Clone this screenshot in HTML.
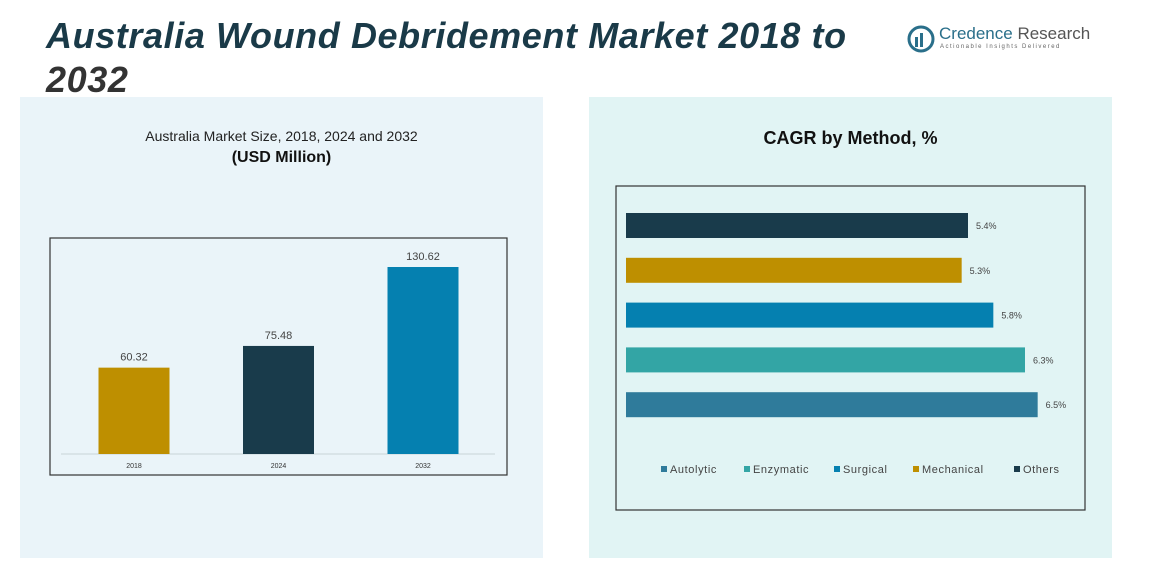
<!DOCTYPE html>
<html><head><meta charset="utf-8"><style>
body{margin:0;width:1157px;height:580px;background:#fff;overflow:hidden;font-family:"Liberation Sans",sans-serif;position:relative}
.abs{position:absolute}
</style></head><body>
<div class="abs" style="left:20px;top:97px;width:523px;height:461px;background:#eaf4f9"></div>
<div class="abs" style="left:589px;top:97px;width:523px;height:461px;background:#e1f4f4"></div>
<div class="abs" style="left:46px;top:14px;width:860px;font-size:36px;letter-spacing:0.6px;line-height:44px;font-weight:bold;font-style:italic;color:#1a3a48">Australia Wound Debridement Market 2018 to <span style="color:#333">2032</span></div>
<div class="abs" style="left:907px;top:24px;width:180px;height:30px">
 <svg width="30" height="30" style="position:absolute;left:0;top:0"><circle cx="14" cy="15" r="12" fill="none" stroke="#2a6f8a" stroke-width="3"/><rect x="8" y="13" width="3" height="10" fill="#2a6f8a"/><rect x="13" y="9" width="3" height="14" fill="#2a6f8a"/></svg>
 <div style="position:absolute;left:32px;top:0;font-size:17px;color:#2a6f8a;white-space:nowrap">Credence <span style="color:#555">Research</span></div>
 <div style="position:absolute;left:33px;top:20px;font-size:6px;letter-spacing:1.5px;color:#666;white-space:nowrap">Actionable Insights Delivered</div>
</div>
<div class="abs" style="left:20px;top:128px;width:523px;text-align:center;font-size:14px;color:#222">Australia Market Size, 2018, 2024 and 2032</div>
<div class="abs" style="left:20px;top:149px;width:523px;text-align:center;font-size:16px;font-weight:bold;color:#111">(USD Million)</div>
<div class="abs" style="left:589px;top:128px;width:523px;text-align:center;font-size:18px;font-weight:bold;color:#111">CAGR by Method, %</div>
<svg class="abs" style="left:0;top:0" width="1157" height="580" id="svg"></svg>
<script>
const years=["2018","2024","2032"];
const sizes=[60.32,75.48,130.62];
const yearColors=["#be8f00","#193b4b","#0580b0"];
const methods=["Others","Mechanical","Surgical","Enzymatic","Autolytic"];
const cagr=[5.4,5.3,5.8,6.3,6.5];
const methodColors=["#193b4b","#be8f00","#0580b0","#33a5a5","#2f7b9b"];
const legendOrder=["Autolytic","Enzymatic","Surgical","Mechanical","Others"];
const legendColors=["#2f7b9b","#33a5a5","#0580b0","#be8f00","#193b4b"];
const NS="http://www.w3.org/2000/svg";
const svg=document.getElementById('svg');
function mk(t,a,txt){const e=document.createElementNS(NS,t);for(const k in a)e.setAttribute(k,a[k]);if(txt!=null)e.textContent=txt;svg.appendChild(e);return e;}
let e=mk('rect',{x:50,y:238,width:457,height:237,fill:'none',stroke:'#333','stroke-width':1.2});

const base=454,yScale=v=>base-v*187/130.62;
const xCenter=i=>134+i*144.5;
e=mk('line',{x1:61,x2:495,y1:base,y2:base,stroke:'#c8d4d8'});

years.forEach((y,i)=>{
 const top=yScale(sizes[i]);
 let r=mk('rect',{x:xCenter(i)-35.5,y:top,width:71,height:base-top,fill:yearColors[i]});
 
 let t=mk('text',{x:xCenter(i),y:top-7,'text-anchor':'middle','font-size':11,fill:'#444'},sizes[i].toFixed(2));
 
 let l=mk('text',{x:xCenter(i),y:468,'text-anchor':'middle','font-size':7,fill:'#333'},y);
 
});
e=mk('rect',{x:616,y:186,width:469,height:324,fill:'none',stroke:'#333','stroke-width':1.2});

const x0=626,xs=v=>v*342/5.4;
methods.forEach((m,i)=>{
 const y=213+i*44.8,w=xs(cagr[i]);
 let r=mk('rect',{x:x0,y:y,width:w,height:25,fill:methodColors[i]});
 
 let t=mk('text',{x:x0+w+8,y:y+16,'font-size':9,fill:'#444'},cagr[i].toFixed(1)+'%');
 
});
const lx=[661,744,834,913,1014];
legendOrder.forEach((m,i)=>{
 let s=mk('rect',{x:lx[i],y:466,width:6,height:6,fill:legendColors[i]});
 
 let t=mk('text',{x:lx[i]+9,y:473,'font-size':11,'letter-spacing':0.6,fill:'#444'},m);
 
});
</script>
</body></html>
